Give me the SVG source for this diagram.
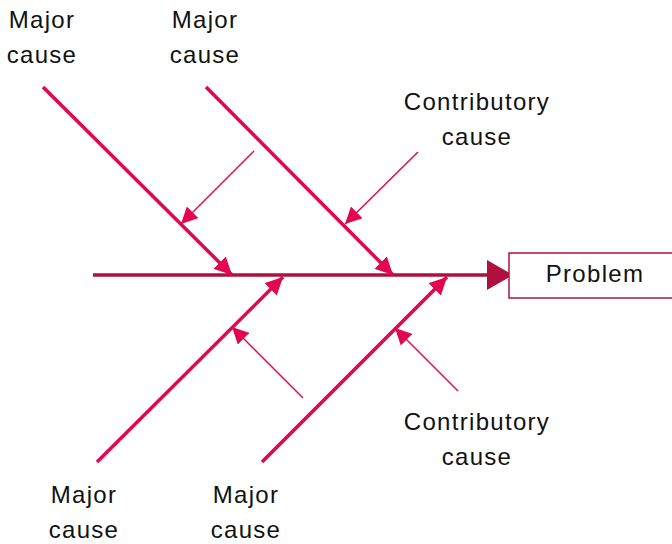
<svg xmlns="http://www.w3.org/2000/svg" width="672" height="544" viewBox="0 0 672 544">
<defs>
<style>
.lbl{font-family:"Liberation Sans","Noto Sans",Arial,sans-serif;font-size:24px;letter-spacing:1.3px;fill:#111;text-anchor:middle}
.major{stroke:#E3064F;stroke-width:3.5;fill:none}
.contrib{stroke:#E3064F;stroke-width:1.5;fill:none}
.spine{stroke:#B0103F;stroke-width:3.5;fill:none}
</style>
<marker id="mh" viewBox="0 0 10 10" refX="10" refY="5" markerWidth="5" markerHeight="5" markerUnits="strokeWidth" orient="auto">
<path d="M0,0 L10,5 L0,10 z" fill="#E3064F"/>
</marker>
<marker id="ch" viewBox="0 0 10 10" refX="10" refY="5" markerWidth="11" markerHeight="11" markerUnits="strokeWidth" orient="auto">
<path d="M0,0 L10,5 L0,10 z" fill="#E3064F"/>
</marker>
</defs>
<g id="connectors">
<line class="spine" x1="93" y1="275" x2="490" y2="275"/>
<path d="M487,260 L513,275 L487,290 z" fill="#B0103F"/>
<line class="major" x1="43" y1="87" x2="232" y2="275" marker-end="url(#mh)"/>
<line class="major" x1="206" y1="87" x2="393" y2="275" marker-end="url(#mh)"/>
<line class="major" x1="97" y1="462" x2="283" y2="277" marker-end="url(#mh)"/>
<line class="major" x1="262" y1="462" x2="447" y2="277" marker-end="url(#mh)"/>
<line class="contrib" x1="254" y1="151" x2="181" y2="224" marker-end="url(#ch)"/>
<line class="contrib" x1="418" y1="152" x2="345" y2="224" marker-end="url(#ch)"/>
<line class="contrib" x1="303" y1="398" x2="232" y2="327" marker-end="url(#ch)"/>
<line class="contrib" x1="458" y1="391" x2="395" y2="328" marker-end="url(#ch)"/>
</g>
<g id="problem">
<rect x="509" y="253" width="170" height="45" fill="#fff" stroke="#B0103F" stroke-width="1.5"/>
<text class="lbl" x="595" y="282">Problem</text>
</g>
<g id="major1"><text class="lbl" x="42" y="28">Major</text><text class="lbl" x="42" y="63">cause</text></g>
<g id="major2"><text class="lbl" x="205" y="28">Major</text><text class="lbl" x="205" y="63">cause</text></g>
<g id="major3"><text class="lbl" x="84" y="503">Major</text><text class="lbl" x="84" y="538">cause</text></g>
<g id="major4"><text class="lbl" x="246" y="503">Major</text><text class="lbl" x="246" y="538">cause</text></g>
<g id="contrib1"><text class="lbl" x="477" y="110">Contributory</text><text class="lbl" x="477" y="145">cause</text></g>
<g id="contrib2"><text class="lbl" x="477" y="430">Contributory</text><text class="lbl" x="477" y="465">cause</text></g>
</svg>
